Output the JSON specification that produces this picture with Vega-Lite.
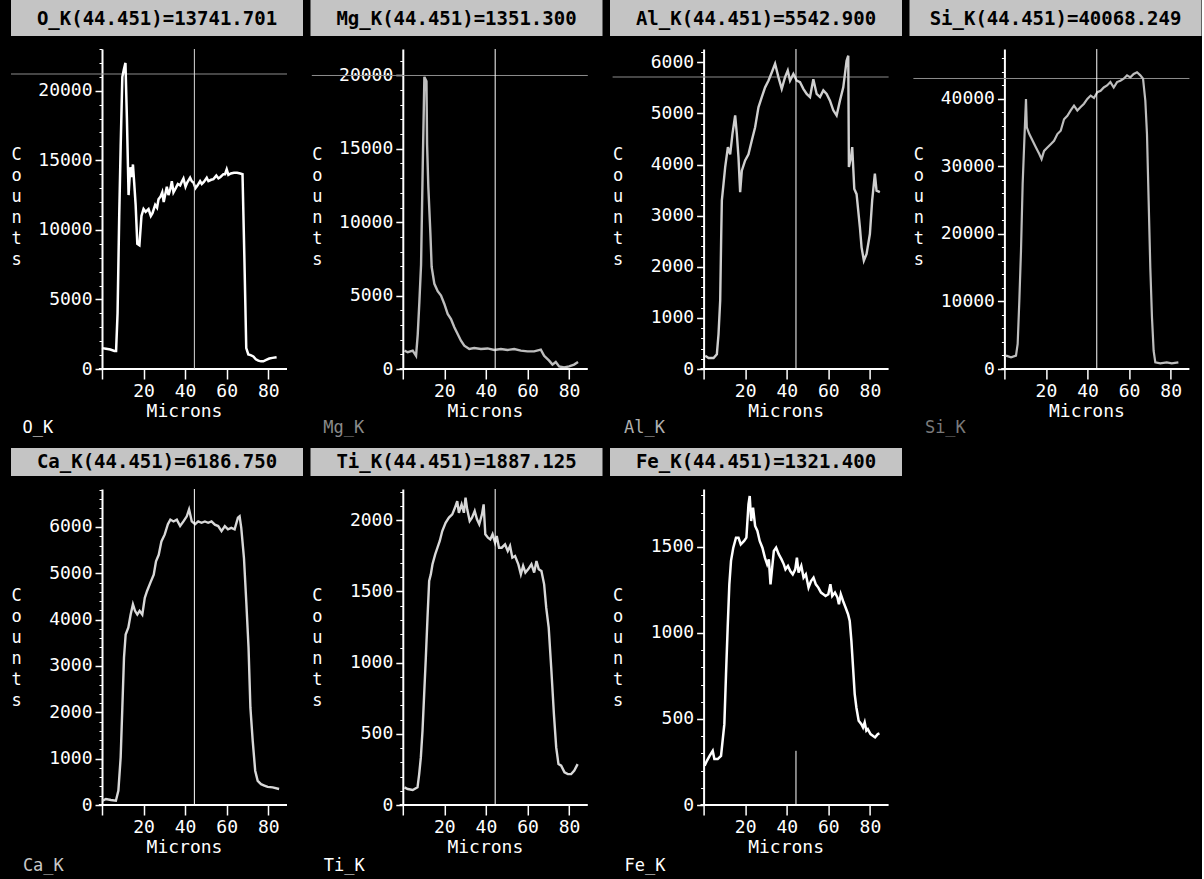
{
 "$schema": "https://vega.github.io/schema/vega-lite/v6.json",
 "background": "black",
 "padding": {"left": 10, "top": 0, "right": 0, "bottom": 6},
 "spacing": 12,
 "datasets": {
  "headers": [
   {"el": "O_K", "t": "O_K(44.451)=13741.701"},
   {"el": "Mg_K", "t": "Mg_K(44.451)=1351.300"},
   {"el": "Al_K", "t": "Al_K(44.451)=5542.900"},
   {"el": "Si_K", "t": "Si_K(44.451)=40068.249"},
   {"el": "Ca_K", "t": "Ca_K(44.451)=6186.750"},
   {"el": "Ti_K", "t": "Ti_K(44.451)=1887.125"},
   {"el": "Fe_K", "t": "Fe_K(44.451)=1321.400"}
  ],
  "xaxis": [{"x0": -1.5, "x1": 89, "y": 0}],
  "hline": [
   {"el": "O_K", "x0": -43.75, "x1": 89, "y": 21203},
   {"el": "Mg_K", "x0": -43.75, "x1": 89, "y": 19995},
   {"el": "Al_K", "x0": -43.75, "x1": 89, "y": 5712},
   {"el": "Si_K", "x0": -43.75, "x1": 89, "y": 43031}
  ],
  "cursor": [
   {"el": "O_K", "x": 44.451, "y0": 0, "y1": 23000},
   {"el": "Mg_K", "x": 44.451, "y0": 0, "y1": 21800},
   {"el": "Al_K", "x": 44.451, "y0": 0, "y1": 6260},
   {"el": "Si_K", "x": 44.451, "y0": 0, "y1": 47400},
   {"el": "Ca_K", "x": 44.451, "y0": 0, "y1": 6820},
   {"el": "Ti_K", "x": 44.451, "y0": 0, "y1": 2218},
   {"el": "Fe_K", "x": 44.451, "y0": 0, "y1": 315}
  ],
  "O_K": [{"x":0,"y":1500},{"x":2,"y":1450},{"x":4,"y":1400},{"x":6,"y":1300},{"x":6.8,"y":1300},{"x":7.5,"y":4000},{"x":8.3,"y":11000},{"x":9,"y":16000},{"x":9.8,"y":21000},{"x":10.5,"y":21500},{"x":11.3,"y":22000},{"x":12,"y":18000},{"x":12.8,"y":12500},{"x":13.6,"y":14500},{"x":14.4,"y":13800},{"x":14.9,"y":14700},{"x":15.5,"y":13400},{"x":16.2,"y":11800},{"x":17,"y":9000},{"x":18,"y":8900},{"x":19,"y":11000},{"x":20,"y":11500},{"x":21,"y":11300},{"x":22.4,"y":11500},{"x":23.5,"y":11000},{"x":24.3,"y":11200},{"x":25.6,"y":11800},{"x":26.5,"y":11600},{"x":27.2,"y":12200},{"x":28.2,"y":12400},{"x":29,"y":12700},{"x":29.7,"y":12000},{"x":30.5,"y":12600},{"x":31.2,"y":13100},{"x":32,"y":12500},{"x":33,"y":13000},{"x":33.6,"y":13500},{"x":34.4,"y":12700},{"x":35.5,"y":13000},{"x":36.5,"y":13300},{"x":37.6,"y":13200},{"x":38.5,"y":13500},{"x":39.2,"y":13700},{"x":40.2,"y":13100},{"x":41,"y":13400},{"x":42.4,"y":13750},{"x":43.2,"y":13500},{"x":44,"y":13400},{"x":45,"y":13000},{"x":46,"y":13200},{"x":47.2,"y":13500},{"x":48,"y":13300},{"x":49,"y":13450},{"x":50.4,"y":13750},{"x":51.2,"y":13500},{"x":52.5,"y":13600},{"x":53.6,"y":13650},{"x":55,"y":13900},{"x":56,"y":13700},{"x":57,"y":13800},{"x":58.4,"y":14000},{"x":59.2,"y":14000},{"x":60,"y":14350},{"x":60.8,"y":13950},{"x":62,"y":14050},{"x":63.5,"y":14100},{"x":65,"y":14100},{"x":66.5,"y":14050},{"x":67.6,"y":14000},{"x":68.5,"y":8000},{"x":69.4,"y":1500},{"x":70.4,"y":1050},{"x":71.5,"y":1000},{"x":72.8,"y":900},{"x":74,"y":700},{"x":75.2,"y":600},{"x":76.5,"y":550},{"x":77.6,"y":550},{"x":79,"y":650},{"x":80.5,"y":750},{"x":82,"y":800},{"x":84,"y":850}],
  "Mg_K": [{"x":0.8,"y":1250},{"x":2.4,"y":1140},{"x":4.8,"y":1250},{"x":6.4,"y":900},{"x":7.2,"y":2340},{"x":8,"y":4600},{"x":8.8,"y":7100},{"x":9.6,"y":13750},{"x":10.4,"y":19900},{"x":11.4,"y":19600},{"x":11.7,"y":15300},{"x":12.3,"y":12400},{"x":13.3,"y":9200},{"x":13.9,"y":6950},{"x":15.2,"y":5800},{"x":16.8,"y":5300},{"x":18.4,"y":5000},{"x":20,"y":4430},{"x":21.6,"y":3750},{"x":23.2,"y":3400},{"x":24.8,"y":2840},{"x":26.4,"y":2390},{"x":28,"y":1930},{"x":29.6,"y":1590},{"x":32,"y":1360},{"x":34.4,"y":1430},{"x":37.6,"y":1360},{"x":40.8,"y":1400},{"x":44,"y":1300},{"x":47.2,"y":1360},{"x":50.4,"y":1300},{"x":53.6,"y":1360},{"x":56.8,"y":1250},{"x":60,"y":1200},{"x":63.2,"y":1200},{"x":66.4,"y":1320},{"x":68,"y":900},{"x":70.4,"y":570},{"x":72,"y":300},{"x":73.6,"y":480},{"x":75.2,"y":180},{"x":77.6,"y":100},{"x":80,"y":180},{"x":82.4,"y":300},{"x":84.3,"y":480}],
  "Al_K": [{"x":0.8,"y":260},{"x":2.4,"y":215},{"x":4.8,"y":215},{"x":6.4,"y":290},{"x":7.2,"y":685},{"x":8,"y":1340},{"x":8.5,"y":2640},{"x":8.8,"y":3300},{"x":9.6,"y":3620},{"x":10.4,"y":3950},{"x":11.7,"y":4340},{"x":12.8,"y":4200},{"x":13.9,"y":4600},{"x":15.2,"y":4960},{"x":16,"y":4600},{"x":16.8,"y":4140},{"x":17.6,"y":3460},{"x":18.4,"y":3880},{"x":20,"y":4080},{"x":21.6,"y":4200},{"x":23.2,"y":4470},{"x":24.8,"y":4730},{"x":26.4,"y":5120},{"x":28,"y":5320},{"x":29.6,"y":5510},{"x":31.2,"y":5640},{"x":32.8,"y":5800},{"x":34.4,"y":5970},{"x":36,"y":5710},{"x":37.6,"y":5480},{"x":39.2,"y":5710},{"x":40.5,"y":5840},{"x":41.6,"y":5640},{"x":43.2,"y":5770},{"x":44.8,"y":5640},{"x":46.4,"y":5610},{"x":48,"y":5480},{"x":49.6,"y":5380},{"x":51.2,"y":5320},{"x":52.8,"y":5670},{"x":54.4,"y":5380},{"x":56,"y":5320},{"x":57.6,"y":5450},{"x":59.2,"y":5380},{"x":60.8,"y":5250},{"x":62.4,"y":5060},{"x":64,"y":4960},{"x":65.6,"y":5250},{"x":67.2,"y":5510},{"x":68.8,"y":6030},{"x":69.6,"y":6130},{"x":69.9,"y":3950},{"x":70.9,"y":4140},{"x":71.5,"y":4340},{"x":72.5,"y":3520},{"x":73.6,"y":3420},{"x":75.2,"y":2770},{"x":76,"y":2380},{"x":77.1,"y":2120},{"x":78.4,"y":2250},{"x":80,"y":2640},{"x":81.1,"y":3300},{"x":82.4,"y":3820},{"x":83.2,"y":3490},{"x":84.8,"y":3460}],
  "Si_K": [{"x":0.8,"y":1975},{"x":3.2,"y":1730},{"x":5.6,"y":1975},{"x":6.4,"y":3700},{"x":7.2,"y":10100},{"x":8,"y":17500},{"x":8.8,"y":27400},{"x":9.6,"y":33800},{"x":10.4,"y":40000},{"x":10.8,"y":35800},{"x":12,"y":34800},{"x":13.6,"y":33800},{"x":15.2,"y":32800},{"x":16.8,"y":31850},{"x":17.9,"y":31100},{"x":19.1,"y":32300},{"x":20.7,"y":32800},{"x":22.3,"y":33300},{"x":23.9,"y":33800},{"x":25.5,"y":34800},{"x":27.1,"y":35300},{"x":28.7,"y":37000},{"x":30.3,"y":37500},{"x":31.9,"y":38300},{"x":33.5,"y":39000},{"x":35.1,"y":38300},{"x":36.7,"y":38800},{"x":38.3,"y":39300},{"x":39.9,"y":40000},{"x":41.5,"y":40500},{"x":43.1,"y":40150},{"x":44.7,"y":41000},{"x":46.3,"y":41200},{"x":47.8,"y":41700},{"x":49.4,"y":42000},{"x":51,"y":42500},{"x":52.6,"y":41700},{"x":54.2,"y":42500},{"x":55.8,"y":42700},{"x":57.4,"y":43000},{"x":59,"y":43500},{"x":60.6,"y":43200},{"x":62.2,"y":43700},{"x":63.8,"y":43950},{"x":65.4,"y":43500},{"x":66.7,"y":43000},{"x":67.8,"y":39750},{"x":68.6,"y":34800},{"x":69.4,"y":24900},{"x":70.2,"y":15000},{"x":71,"y":7650},{"x":71.8,"y":2700},{"x":72.6,"y":990},{"x":75,"y":840},{"x":78.1,"y":990},{"x":80.5,"y":840},{"x":83.7,"y":990}],
  "Ca_K": [{"x":0.3,"y":93},{"x":1.9,"y":130},{"x":4.3,"y":108},{"x":6.7,"y":93},{"x":7.9,"y":310},{"x":9,"y":1030},{"x":9.8,"y":2100},{"x":10.6,"y":3180},{"x":11.4,"y":3680},{"x":12.7,"y":3830},{"x":13.8,"y":4110},{"x":14.9,"y":4330},{"x":15.9,"y":4190},{"x":17,"y":4110},{"x":18.1,"y":4190},{"x":19.4,"y":4110},{"x":20.6,"y":4470},{"x":21.7,"y":4620},{"x":23.3,"y":4800},{"x":24.9,"y":4970},{"x":26,"y":5260},{"x":27.3,"y":5400},{"x":28.6,"y":5690},{"x":30.2,"y":5840},{"x":31.7,"y":6060},{"x":32.9,"y":6160},{"x":34.4,"y":6120},{"x":36,"y":6160},{"x":37.6,"y":6020},{"x":39.2,"y":6120},{"x":40.8,"y":6230},{"x":41.9,"y":6380},{"x":43.2,"y":6120},{"x":44.8,"y":6060},{"x":46.3,"y":6120},{"x":47.9,"y":6090},{"x":49.5,"y":6120},{"x":51.1,"y":6090},{"x":52.7,"y":6120},{"x":54.3,"y":6050},{"x":55.9,"y":6020},{"x":57.5,"y":5910},{"x":59.1,"y":6020},{"x":60.6,"y":5950},{"x":62.2,"y":5980},{"x":63.8,"y":5950},{"x":65.4,"y":6200},{"x":66.2,"y":6230},{"x":67,"y":5980},{"x":68.3,"y":5330},{"x":69.4,"y":4400},{"x":70.5,"y":3400},{"x":71.4,"y":2100},{"x":72.5,"y":1390},{"x":73.7,"y":740},{"x":74.9,"y":520},{"x":76.5,"y":450},{"x":78.1,"y":420},{"x":79.7,"y":390},{"x":82.1,"y":380},{"x":85.2,"y":345}],
  "Ti_K": [{"x":0.8,"y":124},{"x":2.4,"y":112},{"x":4.8,"y":105},{"x":7.1,"y":124},{"x":7.9,"y":217},{"x":8.7,"y":334},{"x":9.5,"y":521},{"x":10.3,"y":778},{"x":11.1,"y":1035},{"x":11.9,"y":1315},{"x":12.7,"y":1572},{"x":13.5,"y":1619},{"x":14.3,"y":1690},{"x":15.6,"y":1759},{"x":16.7,"y":1806},{"x":17.8,"y":1853},{"x":19,"y":1923},{"x":20.6,"y":1981},{"x":22.2,"y":2017},{"x":23.8,"y":2040},{"x":25.1,"y":2086},{"x":26.2,"y":2133},{"x":27,"y":2051},{"x":28.3,"y":2110},{"x":29.4,"y":2051},{"x":30.2,"y":2157},{"x":31,"y":2075},{"x":32.2,"y":1993},{"x":33.3,"y":2016},{"x":34.6,"y":2063},{"x":35.7,"y":2005},{"x":36.8,"y":1970},{"x":38.1,"y":2040},{"x":38.9,"y":2110},{"x":39.7,"y":1900},{"x":41,"y":1876},{"x":42.1,"y":1864},{"x":43.2,"y":1900},{"x":44.4,"y":1841},{"x":45.2,"y":1888},{"x":46.3,"y":1806},{"x":47.6,"y":1806},{"x":49.2,"y":1829},{"x":50.5,"y":1783},{"x":51.6,"y":1818},{"x":52.7,"y":1736},{"x":54,"y":1748},{"x":55.6,"y":1689},{"x":56.8,"y":1619},{"x":57.9,"y":1678},{"x":59,"y":1631},{"x":60.3,"y":1654},{"x":61.9,"y":1690},{"x":63.2,"y":1631},{"x":64.3,"y":1713},{"x":65.4,"y":1654},{"x":66.7,"y":1642},{"x":68,"y":1549},{"x":69,"y":1385},{"x":70.2,"y":1245},{"x":71.4,"y":965},{"x":72.7,"y":638},{"x":73.8,"y":404},{"x":74.9,"y":287},{"x":76.2,"y":276},{"x":77.8,"y":229},{"x":79.4,"y":217},{"x":81,"y":217},{"x":82.5,"y":241},{"x":84.1,"y":287}],
  "Fe_K": [{"x":0.5,"y":228},{"x":1.6,"y":257},{"x":2.9,"y":286},{"x":4.4,"y":315},{"x":5.2,"y":267},{"x":6.8,"y":267},{"x":8.4,"y":286},{"x":10,"y":470},{"x":10.8,"y":760},{"x":11.6,"y":1032},{"x":12.4,"y":1283},{"x":13.2,"y":1419},{"x":14.3,"y":1496},{"x":15.6,"y":1554},{"x":16.8,"y":1554},{"x":17.9,"y":1515},{"x":19.5,"y":1535},{"x":20.6,"y":1554},{"x":21.6,"y":1748},{"x":22.2,"y":1796},{"x":22.9,"y":1651},{"x":23.8,"y":1728},{"x":24.8,"y":1622},{"x":25.9,"y":1593},{"x":27,"y":1535},{"x":28.3,"y":1496},{"x":29.5,"y":1438},{"x":30.6,"y":1399},{"x":31.4,"y":1428},{"x":32.2,"y":1283},{"x":33,"y":1380},{"x":33.8,"y":1477},{"x":34.9,"y":1496},{"x":36.2,"y":1457},{"x":37.5,"y":1428},{"x":38.6,"y":1399},{"x":39.4,"y":1370},{"x":40.6,"y":1390},{"x":41.7,"y":1360},{"x":42.9,"y":1341},{"x":44.1,"y":1370},{"x":44.9,"y":1438},{"x":45.7,"y":1351},{"x":47,"y":1390},{"x":48.1,"y":1322},{"x":49.2,"y":1341},{"x":50.5,"y":1264},{"x":51.7,"y":1302},{"x":52.9,"y":1322},{"x":54,"y":1283},{"x":55.2,"y":1264},{"x":56.5,"y":1235},{"x":57.6,"y":1225},{"x":58.7,"y":1215},{"x":60,"y":1225},{"x":61,"y":1283},{"x":61.9,"y":1215},{"x":63.2,"y":1235},{"x":64.4,"y":1206},{"x":65.1,"y":1167},{"x":66,"y":1225},{"x":67.1,"y":1186},{"x":68.3,"y":1148},{"x":69.5,"y":1109},{"x":70.3,"y":1070},{"x":71.1,"y":954},{"x":71.9,"y":800},{"x":72.7,"y":644},{"x":73.5,"y":567},{"x":74.6,"y":490},{"x":75.9,"y":470},{"x":76.7,"y":451},{"x":77.5,"y":480},{"x":78.3,"y":432},{"x":79,"y":441},{"x":80.3,"y":412},{"x":81.4,"y":403},{"x":82.5,"y":393},{"x":83.8,"y":412},{"x":84.6,"y":416}]
 },
 "vconcat": [
  {"spacing": 7.5, "hconcat": [
   {"width": 292, "height": 36, "data": {"name": "headers"}, "transform": [{"filter": "datum.el==='O_K'"}], "mark": {"type": "text", "font": "DejaVu Sans Mono", "fontWeight": "bold", "fontSize": 19, "color": "black", "dy": 1}, "encoding": {"text": {"field": "t"}}, "view": {"fill": "#c4c4c4", "stroke": null}},
   {"width": 292, "height": 36, "data": {"name": "headers"}, "transform": [{"filter": "datum.el==='Mg_K'"}], "mark": {"type": "text", "font": "DejaVu Sans Mono", "fontWeight": "bold", "fontSize": 19, "color": "black", "dy": 1}, "encoding": {"text": {"field": "t"}}, "view": {"fill": "#c4c4c4", "stroke": null}},
   {"width": 292, "height": 36, "data": {"name": "headers"}, "transform": [{"filter": "datum.el==='Al_K'"}], "mark": {"type": "text", "font": "DejaVu Sans Mono", "fontWeight": "bold", "fontSize": 19, "color": "black", "dy": 1}, "encoding": {"text": {"field": "t"}}, "view": {"fill": "#c4c4c4", "stroke": null}},
   {"width": 292, "height": 36, "data": {"name": "headers"}, "transform": [{"filter": "datum.el==='Si_K'"}], "mark": {"type": "text", "font": "DejaVu Sans Mono", "fontWeight": "bold", "fontSize": 19, "color": "black", "dy": 1}, "encoding": {"text": {"field": "t"}}, "view": {"fill": "#c4c4c4", "stroke": null}}
  ]},
  {"spacing": 22.8, "hconcat": [
   {"width": 276, "height": 320, "title": {"text": "O_K", "orient": "bottom", "anchor": "start", "color": "white", "dx": 12, "offset": 0},
    "resolve": {"axis": {"y": "independent"}},
    "layer": [
     {"data": {"name": "hline"}, "transform": [{"filter": "datum.el==='O_K'"}], "mark": {"type": "rule", "color": "#8c8c8c", "strokeWidth": 1},
      "encoding": {"x": {"field": "x0", "type": "quantitative", "title": "Microns"}, "x2": {"field": "x1"}, "y": {"field": "y", "type": "quantitative", "axis": null}}},
     {"data": {"name": "O_K"}, "mark": {"type": "line", "color": "white", "strokeWidth": 2.5},
      "encoding": {
       "x": {"field": "x", "type": "quantitative", "title": "Microns", "scale": {"domain": [-43.75, 89], "nice": false, "zero": false}, "axis": {"titleX": 173, "values": [0,10,20,30,40,50,60,70,80], "labelExpr": "datum.value % 20 === 0 && datum.value > 0 ? datum.label : ''", "format": "d", "domain": false, "tickSize": 10, "labelPadding": 3, "titlePadding": 2, "labelFlush": false, "labelOverlap": false}},
       "y": {"field": "y", "type": "quantitative", "scale": {"domain": [0, 23000], "nice": false}, "axis": {"offset": -91, "title": ["C","o","u","n","t","s"], "titleAngle": 0, "titleX": -86, "titleY": 105, "titleAlign": "center", "titleBaseline": "middle", "titleLineHeight": 21, "titleFontSize": 17, "values": [0,5000,10000,15000,20000], "format": "d", "tickSize": 7, "labelPadding": 3}}}},
     {"data": {"name": "xaxis"}, "mark": {"type": "rule", "color": "white", "strokeWidth": 2},
      "encoding": {"x": {"field": "x0", "type": "quantitative", "title": "Microns"}, "x2": {"field": "x1"}, "y": {"field": "y", "type": "quantitative", "axis": {"orient": "left", "offset": -91, "values": [0,1000,2000,3000,4000,5000,6000,7000,8000,9000,10000,11000,12000,13000,14000,15000,16000,17000,18000,19000,20000,21000,22000,23000], "labels": false, "domain": false, "title": null, "tickSize": 3, "tickWidth": 1}}}},
     {"data": {"name": "cursor"}, "transform": [{"filter": "datum.el==='O_K'"}], "mark": {"type": "rule", "color": "#d8d8d8", "strokeWidth": 1},
      "encoding": {"x": {"field": "x", "type": "quantitative", "title": "Microns"}, "y": {"field": "y0", "type": "quantitative", "axis": null}, "y2": {"field": "y1"}}}
    ]},
   {"width": 276, "height": 320, "title": {"text": "Mg_K", "orient": "bottom", "anchor": "start", "color": "#8a8a8a", "dx": 12, "offset": 0},
    "resolve": {"axis": {"y": "independent"}},
    "layer": [
     {"data": {"name": "hline"}, "transform": [{"filter": "datum.el==='Mg_K'"}], "mark": {"type": "rule", "color": "#8c8c8c", "strokeWidth": 1},
      "encoding": {"x": {"field": "x0", "type": "quantitative", "title": "Microns"}, "x2": {"field": "x1"}, "y": {"field": "y", "type": "quantitative", "axis": null}}},
     {"data": {"name": "Mg_K"}, "mark": {"type": "line", "color": "#bdbdbd", "strokeWidth": 2.4},
      "encoding": {
       "x": {"field": "x", "type": "quantitative", "title": "Microns", "scale": {"domain": [-43.75, 89], "nice": false, "zero": false}, "axis": {"titleX": 173, "values": [0,10,20,30,40,50,60,70,80], "labelExpr": "datum.value % 20 === 0 && datum.value > 0 ? datum.label : ''", "format": "d", "domain": false, "tickSize": 10, "labelPadding": 3, "titlePadding": 2, "labelFlush": false, "labelOverlap": false}},
       "y": {"field": "y", "type": "quantitative", "scale": {"domain": [0, 21800], "nice": false}, "axis": {"offset": -91, "title": ["C","o","u","n","t","s"], "titleAngle": 0, "titleX": -86, "titleY": 105, "titleAlign": "center", "titleBaseline": "middle", "titleLineHeight": 21, "titleFontSize": 17, "values": [0,5000,10000,15000,20000], "format": "d", "tickSize": 7, "labelPadding": 3}}}},
     {"data": {"name": "xaxis"}, "mark": {"type": "rule", "color": "white", "strokeWidth": 2},
      "encoding": {"x": {"field": "x0", "type": "quantitative", "title": "Microns"}, "x2": {"field": "x1"}, "y": {"field": "y", "type": "quantitative", "axis": {"orient": "left", "offset": -91, "values": [0,1000,2000,3000,4000,5000,6000,7000,8000,9000,10000,11000,12000,13000,14000,15000,16000,17000,18000,19000,20000,21000], "labels": false, "domain": false, "title": null, "tickSize": 3, "tickWidth": 1}}}},
     {"data": {"name": "cursor"}, "transform": [{"filter": "datum.el==='Mg_K'"}], "mark": {"type": "rule", "color": "white", "strokeWidth": 1},
      "encoding": {"x": {"field": "x", "type": "quantitative", "title": "Microns"}, "y": {"field": "y0", "type": "quantitative", "axis": null}, "y2": {"field": "y1"}}}
    ]},
   {"width": 276, "height": 320, "title": {"text": "Al_K", "orient": "bottom", "anchor": "start", "color": "#b0b0b0", "dx": 12, "offset": 0},
    "resolve": {"axis": {"y": "independent"}},
    "layer": [
     {"data": {"name": "hline"}, "transform": [{"filter": "datum.el==='Al_K'"}], "mark": {"type": "rule", "color": "#8c8c8c", "strokeWidth": 1},
      "encoding": {"x": {"field": "x0", "type": "quantitative", "title": "Microns"}, "x2": {"field": "x1"}, "y": {"field": "y", "type": "quantitative", "axis": null}}},
     {"data": {"name": "Al_K"}, "mark": {"type": "line", "color": "#cfcfcf", "strokeWidth": 2.4},
      "encoding": {
       "x": {"field": "x", "type": "quantitative", "title": "Microns", "scale": {"domain": [-43.75, 89], "nice": false, "zero": false}, "axis": {"titleX": 173, "values": [0,10,20,30,40,50,60,70,80], "labelExpr": "datum.value % 20 === 0 && datum.value > 0 ? datum.label : ''", "format": "d", "domain": false, "tickSize": 10, "labelPadding": 3, "titlePadding": 2, "labelFlush": false, "labelOverlap": false}},
       "y": {"field": "y", "type": "quantitative", "scale": {"domain": [0, 6260], "nice": false}, "axis": {"offset": -91, "title": ["C","o","u","n","t","s"], "titleAngle": 0, "titleX": -86, "titleY": 105, "titleAlign": "center", "titleBaseline": "middle", "titleLineHeight": 21, "titleFontSize": 17, "values": [0,1000,2000,3000,4000,5000,6000], "format": "d", "tickSize": 7, "labelPadding": 3}}}},
     {"data": {"name": "xaxis"}, "mark": {"type": "rule", "color": "white", "strokeWidth": 2},
      "encoding": {"x": {"field": "x0", "type": "quantitative", "title": "Microns"}, "x2": {"field": "x1"}, "y": {"field": "y", "type": "quantitative", "axis": {"orient": "left", "offset": -91, "values": [0,200,400,600,800,1000,1200,1400,1600,1800,2000,2200,2400,2600,2800,3000,3200,3400,3600,3800,4000,4200,4400,4600,4800,5000,5200,5400,5600,5800,6000,6200], "labels": false, "domain": false, "title": null, "tickSize": 3, "tickWidth": 1}}}},
     {"data": {"name": "cursor"}, "transform": [{"filter": "datum.el==='Al_K'"}], "mark": {"type": "rule", "color": "white", "strokeWidth": 1},
      "encoding": {"x": {"field": "x", "type": "quantitative", "title": "Microns"}, "y": {"field": "y0", "type": "quantitative", "axis": null}, "y2": {"field": "y1"}}}
    ]},
   {"width": 276, "height": 320, "title": {"text": "Si_K", "orient": "bottom", "anchor": "start", "color": "#7a7a7a", "dx": 12, "offset": 0},
    "resolve": {"axis": {"y": "independent"}},
    "layer": [
     {"data": {"name": "hline"}, "transform": [{"filter": "datum.el==='Si_K'"}], "mark": {"type": "rule", "color": "#8c8c8c", "strokeWidth": 1},
      "encoding": {"x": {"field": "x0", "type": "quantitative", "title": "Microns"}, "x2": {"field": "x1"}, "y": {"field": "y", "type": "quantitative", "axis": null}}},
     {"data": {"name": "Si_K"}, "mark": {"type": "line", "color": "#bdbdbd", "strokeWidth": 2.2},
      "encoding": {
       "x": {"field": "x", "type": "quantitative", "title": "Microns", "scale": {"domain": [-43.75, 89], "nice": false, "zero": false}, "axis": {"titleX": 173, "values": [0,10,20,30,40,50,60,70,80], "labelExpr": "datum.value % 20 === 0 && datum.value > 0 ? datum.label : ''", "format": "d", "domain": false, "tickSize": 10, "labelPadding": 3, "titlePadding": 2, "labelFlush": false, "labelOverlap": false}},
       "y": {"field": "y", "type": "quantitative", "scale": {"domain": [0, 47400], "nice": false}, "axis": {"offset": -91, "title": ["C","o","u","n","t","s"], "titleAngle": 0, "titleX": -86, "titleY": 105, "titleAlign": "center", "titleBaseline": "middle", "titleLineHeight": 21, "titleFontSize": 17, "values": [0,10000,20000,30000,40000], "format": "d", "tickSize": 7, "labelPadding": 3}}}},
     {"data": {"name": "xaxis"}, "mark": {"type": "rule", "color": "white", "strokeWidth": 2},
      "encoding": {"x": {"field": "x0", "type": "quantitative", "title": "Microns"}, "x2": {"field": "x1"}, "y": {"field": "y", "type": "quantitative", "axis": {"orient": "left", "offset": -91, "values": [0,2000,4000,6000,8000,10000,12000,14000,16000,18000,20000,22000,24000,26000,28000,30000,32000,34000,36000,38000,40000,42000,44000,46000], "labels": false, "domain": false, "title": null, "tickSize": 3, "tickWidth": 1}}}},
     {"data": {"name": "cursor"}, "transform": [{"filter": "datum.el==='Si_K'"}], "mark": {"type": "rule", "color": "white", "strokeWidth": 1},
      "encoding": {"x": {"field": "x", "type": "quantitative", "title": "Microns"}, "y": {"field": "y0", "type": "quantitative", "axis": null}, "y2": {"field": "y1"}}}
    ]}
  ]},
  {"spacing": 7.5, "hconcat": [
   {"width": 292, "height": 28, "data": {"name": "headers"}, "transform": [{"filter": "datum.el==='Ca_K'"}], "mark": {"type": "text", "font": "DejaVu Sans Mono", "fontWeight": "bold", "fontSize": 19, "color": "black"}, "encoding": {"text": {"field": "t"}}, "view": {"fill": "#c4c4c4", "stroke": null}},
   {"width": 292, "height": 28, "data": {"name": "headers"}, "transform": [{"filter": "datum.el==='Ti_K'"}], "mark": {"type": "text", "font": "DejaVu Sans Mono", "fontWeight": "bold", "fontSize": 19, "color": "black"}, "encoding": {"text": {"field": "t"}}, "view": {"fill": "#c4c4c4", "stroke": null}},
   {"width": 292, "height": 28, "data": {"name": "headers"}, "transform": [{"filter": "datum.el==='Fe_K'"}], "mark": {"type": "text", "font": "DejaVu Sans Mono", "fontWeight": "bold", "fontSize": 19, "color": "black"}, "encoding": {"text": {"field": "t"}}, "view": {"fill": "#c4c4c4", "stroke": null}}
  ]},
  {"spacing": 22.8, "hconcat": [
   {"width": 276, "height": 316, "title": {"text": "Ca_K", "orient": "bottom", "anchor": "start", "color": "#c8c8c8", "dx": 12, "offset": 2},
    "resolve": {"axis": {"y": "independent"}},
    "layer": [
     {"data": {"name": "Ca_K"}, "mark": {"type": "line", "color": "#d8d8d8", "strokeWidth": 2.4},
      "encoding": {
       "x": {"field": "x", "type": "quantitative", "title": "Microns", "scale": {"domain": [-43.75, 89], "nice": false, "zero": false}, "axis": {"titleX": 173, "values": [0,10,20,30,40,50,60,70,80], "labelExpr": "datum.value % 20 === 0 && datum.value > 0 ? datum.label : ''", "format": "d", "domain": false, "tickSize": 10, "labelPadding": 3, "titlePadding": 2, "labelFlush": false, "labelOverlap": false}},
       "y": {"field": "y", "type": "quantitative", "scale": {"domain": [0, 6820], "nice": false}, "axis": {"offset": -91, "title": ["C","o","u","n","t","s"], "titleAngle": 0, "titleX": -86, "titleY": 106, "titleAlign": "center", "titleBaseline": "middle", "titleLineHeight": 21, "titleFontSize": 17, "values": [0,1000,2000,3000,4000,5000,6000], "format": "d", "tickSize": 7, "labelPadding": 3}}}},
     {"data": {"name": "xaxis"}, "mark": {"type": "rule", "color": "white", "strokeWidth": 2},
      "encoding": {"x": {"field": "x0", "type": "quantitative", "title": "Microns"}, "x2": {"field": "x1"}, "y": {"field": "y", "type": "quantitative", "axis": {"orient": "left", "offset": -91, "values": [0,200,400,600,800,1000,1200,1400,1600,1800,2000,2200,2400,2600,2800,3000,3200,3400,3600,3800,4000,4200,4400,4600,4800,5000,5200,5400,5600,5800,6000,6200,6400,6600,6800], "labels": false, "domain": false, "title": null, "tickSize": 3, "tickWidth": 1}}}},
     {"data": {"name": "cursor"}, "transform": [{"filter": "datum.el==='Ca_K'"}], "mark": {"type": "rule", "color": "white", "strokeWidth": 1},
      "encoding": {"x": {"field": "x", "type": "quantitative", "title": "Microns"}, "y": {"field": "y0", "type": "quantitative", "axis": null}, "y2": {"field": "y1"}}}
    ]},
   {"width": 276, "height": 316, "title": {"text": "Ti_K", "orient": "bottom", "anchor": "start", "color": "white", "dx": 12, "offset": 2},
    "resolve": {"axis": {"y": "independent"}},
    "layer": [
     {"data": {"name": "Ti_K"}, "mark": {"type": "line", "color": "#d8d8d8", "strokeWidth": 2.4},
      "encoding": {
       "x": {"field": "x", "type": "quantitative", "title": "Microns", "scale": {"domain": [-43.75, 89], "nice": false, "zero": false}, "axis": {"titleX": 173, "values": [0,10,20,30,40,50,60,70,80], "labelExpr": "datum.value % 20 === 0 && datum.value > 0 ? datum.label : ''", "format": "d", "domain": false, "tickSize": 10, "labelPadding": 3, "titlePadding": 2, "labelFlush": false, "labelOverlap": false}},
       "y": {"field": "y", "type": "quantitative", "scale": {"domain": [0, 2218], "nice": false}, "axis": {"offset": -91, "title": ["C","o","u","n","t","s"], "titleAngle": 0, "titleX": -86, "titleY": 106, "titleAlign": "center", "titleBaseline": "middle", "titleLineHeight": 21, "titleFontSize": 17, "values": [0,500,1000,1500,2000], "format": "d", "tickSize": 7, "labelPadding": 3}}}},
     {"data": {"name": "xaxis"}, "mark": {"type": "rule", "color": "white", "strokeWidth": 2},
      "encoding": {"x": {"field": "x0", "type": "quantitative", "title": "Microns"}, "x2": {"field": "x1"}, "y": {"field": "y", "type": "quantitative", "axis": {"orient": "left", "offset": -91, "values": [0,100,200,300,400,500,600,700,800,900,1000,1100,1200,1300,1400,1500,1600,1700,1800,1900,2000,2100,2200], "labels": false, "domain": false, "title": null, "tickSize": 3, "tickWidth": 1}}}},
     {"data": {"name": "cursor"}, "transform": [{"filter": "datum.el==='Ti_K'"}], "mark": {"type": "rule", "color": "white", "strokeWidth": 1},
      "encoding": {"x": {"field": "x", "type": "quantitative", "title": "Microns"}, "y": {"field": "y0", "type": "quantitative", "axis": null}, "y2": {"field": "y1"}}}
    ]},
   {"width": 276, "height": 316, "title": {"text": "Fe_K", "orient": "bottom", "anchor": "start", "color": "white", "dx": 12, "offset": 2},
    "resolve": {"axis": {"y": "independent"}},
    "layer": [
     {"data": {"name": "Fe_K"}, "mark": {"type": "line", "color": "white", "strokeWidth": 2.5},
      "encoding": {
       "x": {"field": "x", "type": "quantitative", "title": "Microns", "scale": {"domain": [-43.75, 89], "nice": false, "zero": false}, "axis": {"titleX": 173, "values": [0,10,20,30,40,50,60,70,80], "labelExpr": "datum.value % 20 === 0 && datum.value > 0 ? datum.label : ''", "format": "d", "domain": false, "tickSize": 10, "labelPadding": 3, "titlePadding": 2, "labelFlush": false, "labelOverlap": false}},
       "y": {"field": "y", "type": "quantitative", "scale": {"domain": [0, 1837], "nice": false}, "axis": {"offset": -91, "title": ["C","o","u","n","t","s"], "titleAngle": 0, "titleX": -86, "titleY": 106, "titleAlign": "center", "titleBaseline": "middle", "titleLineHeight": 21, "titleFontSize": 17, "values": [0,500,1000,1500], "format": "d", "tickSize": 7, "labelPadding": 3}}}},
     {"data": {"name": "xaxis"}, "mark": {"type": "rule", "color": "white", "strokeWidth": 2},
      "encoding": {"x": {"field": "x0", "type": "quantitative", "title": "Microns"}, "x2": {"field": "x1"}, "y": {"field": "y", "type": "quantitative", "axis": {"orient": "left", "offset": -91, "values": [0,100,200,300,400,500,600,700,800,900,1000,1100,1200,1300,1400,1500,1600,1700,1800], "labels": false, "domain": false, "title": null, "tickSize": 3, "tickWidth": 1}}}},
     {"data": {"name": "cursor"}, "transform": [{"filter": "datum.el==='Fe_K'"}], "mark": {"type": "rule", "color": "white", "strokeWidth": 1},
      "encoding": {"x": {"field": "x", "type": "quantitative", "title": "Microns"}, "y": {"field": "y0", "type": "quantitative", "axis": null}, "y2": {"field": "y1"}}}
    ]}
  ]}
 ],
 "config": {
  "view": {"stroke": null},
  "axis": {"domainColor": "white", "domainWidth": 2, "tickColor": "white", "tickWidth": 1.5, "labelColor": "white", "titleColor": "white", "labelFont": "DejaVu Sans Mono", "titleFont": "DejaVu Sans Mono", "labelFontSize": 18, "titleFontSize": 18, "titleFontWeight": "normal", "grid": false},
  "title": {"font": "DejaVu Sans Mono", "fontSize": 17, "fontWeight": "normal", "color": "white"}
 }
}
